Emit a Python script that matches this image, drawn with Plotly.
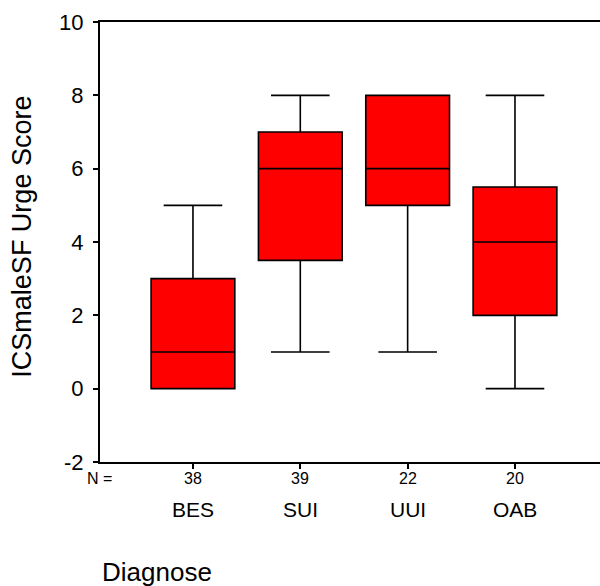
import plotly.graph_objects as go

categories = ["BES", "SUI", "UUI", "OAB"]
n_counts = ["38", "39", "22", "20"]
lower = [0, 1, 1, 0]
q1 = [0, 3.5, 5, 2]
median = [1, 6, 6, 4]
q3 = [3, 7, 8, 5.5]
upper = [5, 8, 8, 8]
y_ticks = [-2, 0, 2, 4, 6, 8, 10]
y_tick_text = ["-2", "0", "2", "4", "6", "8", "10"]

FONT = "Liberation Sans, Arial, sans-serif"

fig = go.Figure()
fig.add_trace(go.Box(
    x=categories,
    q1=q1, median=median, q3=q3,
    lowerfence=lower, upperfence=upper,
    fillcolor="#ff0000",
    line=dict(color="black", width=1.6),
    width=0.78,
    whiskerwidth=0.7,
    boxpoints=False,
    showlegend=False,
    hoverinfo="skip",
))

fig.update_layout(
    width=600, height=586,
    margin=dict(l=100, r=0, t=22, b=124, pad=0),
    plot_bgcolor="white", paper_bgcolor="white",
    font=dict(family=FONT, color="black"),
    xaxis=dict(
        type="category",
        range=[-0.866, 3.792],
        tickvals=categories,
        showticklabels=False,
        ticks="outside", ticklen=5, tickwidth=1.5, tickcolor="black",
        showline=True, linecolor="black", linewidth=2, mirror=True,
        showgrid=False, zeroline=False,
    ),
    yaxis=dict(
        range=[-2, 10],
        tickvals=y_ticks,
        ticktext=y_tick_text,
        tickfont=dict(size=22),
        ticks="outside", ticklen=5, tickwidth=1.5, tickcolor="black",
        showline=True, linecolor="black", linewidth=2,
        showgrid=False, zeroline=False,
        ticklabelstandoff=5,
    ),
)

annotations = []
for c, n in zip(categories, n_counts):
    annotations.append(dict(
        x=c, xref="x", y=-0.0375, yref="paper",
        text=n, showarrow=False, font=dict(size=16),
        xanchor="center", yanchor="middle",
    ))
    annotations.append(dict(
        x=c, xref="x", y=-0.109, yref="paper",
        text=c, showarrow=False, font=dict(size=21),
        xanchor="center", yanchor="middle",
    ))
annotations.append(dict(
    x=-0.002, xref="paper", y=-0.0375, yref="paper",
    text="N =", showarrow=False, font=dict(size=16),
    xanchor="center", yanchor="middle",
))
annotations.append(dict(
    x=0.0, xref="paper", y=-0.25, yref="paper",
    text="Diagnose", showarrow=False, font=dict(size=26),
    xanchor="left", yanchor="middle",
))
annotations.append(dict(
    x=-0.155, xref="paper", y=0.511, yref="paper",
    text="ICSmaleSF Urge Score", showarrow=False, font=dict(size=27),
    textangle=-90, xanchor="center", yanchor="middle",
))
fig.update_layout(annotations=annotations)

fig.write_html("out.html")
